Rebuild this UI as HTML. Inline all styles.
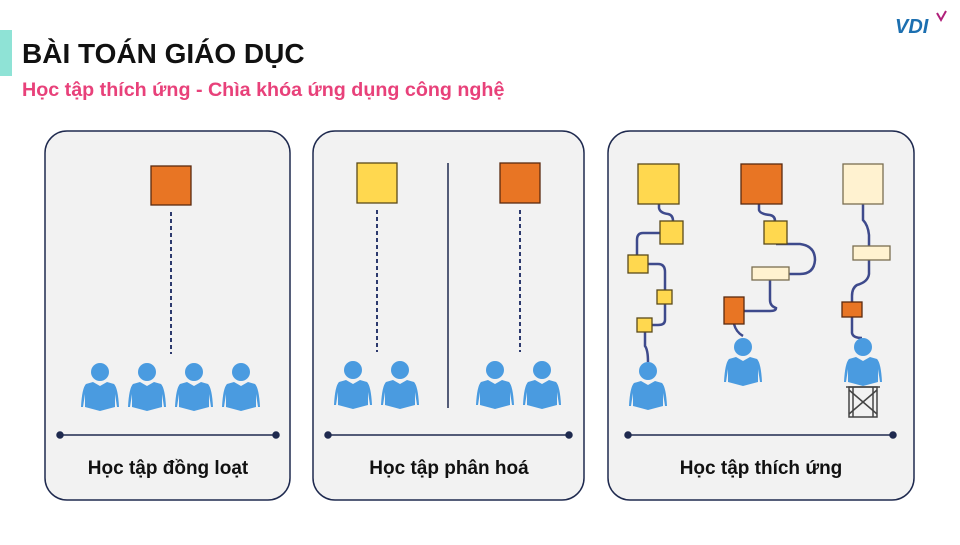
<!DOCTYPE html>
<html><head><meta charset="utf-8"><style>
body{margin:0;width:960px;height:540px;background:#fff;overflow:hidden;font-family:"Liberation Sans","Noto Sans CJK SC",sans-serif}
</style></head><body>
<svg width="960" height="540" viewBox="0 0 960 540" xmlns="http://www.w3.org/2000/svg" font-family="Liberation Sans, Noto Sans CJK SC, sans-serif">
<defs>
<g id="p"><circle cx="0" cy="0" r="9" fill="#4a9be0"/><path d="M-14,12 Q-18,16 -19,35 L-17,35 L-15,22 L-15,35 L0,39 L15,35 L15,22 L17,35 L19,35 Q18,16 14,12 L7,10 L0,14 L-7,10 Z" fill="#4a9be0"/></g>
</defs>
<rect x="0" y="30" width="12" height="46" fill="#8fe3d6"/>
<text x="22" y="63" font-size="28" font-weight="bold" fill="#111">BÀI TOÁN GIÁO DỤC</text>
<text x="22" y="96" font-size="19.7" font-weight="bold" fill="#e8417a">Học tập thích ứng - Chìa khóa ứng dụng công nghệ</text>
<text x="895" y="33" font-size="20" font-weight="bold" font-style="italic" fill="#1c6fb0">VDI</text>
<path d="M937,13 L941,20 L946,11" stroke="#b0207a" stroke-width="2" fill="none"/>
<g fill="#f2f2f2" stroke="#1f2a4f" stroke-width="1.5">
<rect x="45" y="131" width="245" height="369" rx="22"/>
<rect x="313" y="131" width="271" height="369" rx="22"/>
<rect x="608" y="131" width="306" height="369" rx="22"/>
</g>
<g stroke="#1f2a4f" stroke-width="1.5" fill="#1f2a4f">
<line x1="60" y1="435" x2="276" y2="435"/><circle cx="60" cy="435" r="3"/><circle cx="276" cy="435" r="3"/>
<line x1="328" y1="435" x2="569" y2="435"/><circle cx="328" cy="435" r="3"/><circle cx="569" cy="435" r="3"/>
<line x1="628" y1="435" x2="893" y2="435"/><circle cx="628" cy="435" r="3"/><circle cx="893" cy="435" r="3"/>
<line x1="448" y1="163" x2="448" y2="408"/>
</g>
<g stroke="#2d3a6e" stroke-width="2" stroke-dasharray="4,3">
<line x1="171" y1="212" x2="171" y2="354"/><line x1="377" y1="210" x2="377" y2="352"/><line x1="520" y1="210" x2="520" y2="352"/>
</g>
<g font-size="19" font-weight="bold" fill="#111" text-anchor="middle">
<text x="168" y="474">Học tập đồng loạt</text><text x="449" y="474">Học tập phân hoá</text><text x="761" y="474">Học tập thích ứng</text>
</g>
<g stroke-width="1.3">
<rect x="151" y="166" width="40" height="39" fill="#e87524" stroke="#5a2a10"/>
<rect x="357" y="163" width="40" height="40" fill="#ffd84f" stroke="#5a4a1a"/>
<rect x="500" y="163" width="40" height="40" fill="#e87524" stroke="#5a2a10"/>
</g>
<use href="#p" x="100" y="372"/><use href="#p" x="147" y="372"/><use href="#p" x="194" y="372"/><use href="#p" x="241" y="372"/>
<use href="#p" x="353" y="370"/><use href="#p" x="400" y="370"/><use href="#p" x="495" y="370"/><use href="#p" x="542" y="370"/>
<g stroke="#3e4a8c" stroke-width="2.5" fill="none">
<path d="M659,204 V208 Q660,213 668,214 Q673,215 673,221"/>
<path d="M660,233 H643 Q637,233 637,240 V255"/>
<path d="M648,264 H658 Q665,264 665,272 V290"/>
<path d="M665,304 V320 Q665,325 658,325 H652"/>
<path d="M645,332 V346 Q648,350 648,362"/>
<path d="M759,204 V210 Q760,214 770,215 Q775,216 775,221"/>
<path d="M776,244 H800 Q815,246 815,260 Q814,274 800,274 H789"/>
<path d="M770,280 V300 Q770,306 776,308 Q776,311 770,311 H744"/>
<path d="M734,324 Q736,332 743,336"/>
<path d="M863,204 V220 Q868,225 869,235 V246"/>
<path d="M869,260 V274 Q868,282 857,285 Q852,288 852,296 V302"/>
<path d="M852,317 V333 Q853,338 862,338"/>
</g>
<g stroke-width="1.3">
<rect x="638" y="164" width="41" height="40" fill="#ffd84f" stroke="#5a4a1a"/>
<rect x="660" y="221" width="23" height="23" fill="#ffd84f" stroke="#5a4a1a"/>
<rect x="628" y="255" width="20" height="18" fill="#ffd84f" stroke="#5a4a1a"/>
<rect x="657" y="290" width="15" height="14" fill="#ffd84f" stroke="#5a4a1a"/>
<rect x="637" y="318" width="15" height="14" fill="#ffd84f" stroke="#5a4a1a"/>
<rect x="741" y="164" width="41" height="40" fill="#e87524" stroke="#5a2a10"/>
<rect x="764" y="221" width="23" height="23" fill="#ffd84f" stroke="#5a4a1a"/>
<rect x="752" y="267" width="37" height="13" fill="#fff2d0" stroke="#7a6e50"/>
<rect x="724" y="297" width="20" height="27" fill="#e87524" stroke="#5a2a10"/>
<rect x="843" y="164" width="40" height="40" fill="#fff2d0" stroke="#7a6e50"/>
<rect x="853" y="246" width="37" height="14" fill="#fff2d0" stroke="#7a6e50"/>
<rect x="842" y="302" width="20" height="15" fill="#e87524" stroke="#5a2a10"/>
</g>
<use href="#p" x="648" y="371"/><use href="#p" x="743" y="347"/><use href="#p" x="863" y="347"/>
<g stroke="#444" stroke-width="1.5" fill="none">
<rect x="849" y="387" width="28" height="30"/><line x1="849" y1="390" x2="877" y2="414"/><line x1="877" y1="390" x2="849" y2="414"/><line x1="846" y1="387" x2="880" y2="387"/><line x1="853" y1="387" x2="853" y2="417"/><line x1="873" y1="387" x2="873" y2="417"/>
</g>
</svg>
</body></html>
